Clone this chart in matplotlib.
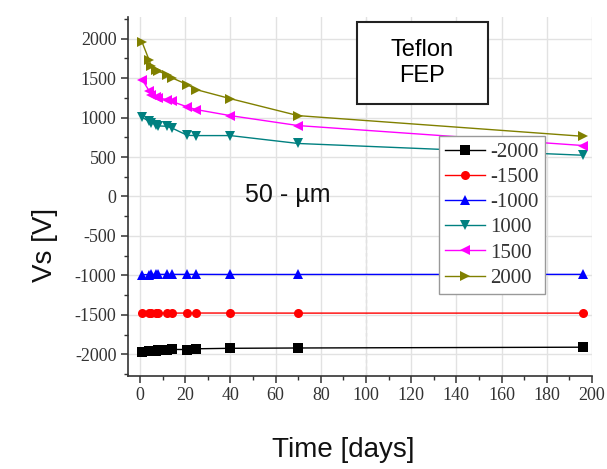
import matplotlib
matplotlib.use("Agg")
import matplotlib.pyplot as plt
from matplotlib.ticker import MultipleLocator
from matplotlib.patches import Rectangle

plt.rcParams["axes.unicode_minus"] = False

# Measurement days
days = [1, 4, 5, 7, 8, 12, 14, 21, 25, 40, 70, 196]

# Surface potential (V) for each initial charging voltage
vs_m2000 = [-1965, -1960, -1955, -1952, -1950, -1940, -1938, -1940, -1930, -1924, -1920, -1910]
vs_m1500 = [-1482, -1482, -1480, -1480, -1479, -1478, -1478, -1477, -1477, -1477, -1478, -1478]
vs_m1000 = [-990, -990, -988, -988, -987, -987, -987, -987, -987, -988, -988, -987]
vs_p1000 = [1004, 953, 933, 911, 895, 890, 870, 775, 772, 772, 672, 523]
vs_p1500 = [1481, 1342, 1291, 1262, 1250, 1228, 1206, 1135, 1101, 1025, 899, 646]
vs_p2000 = [1953, 1734, 1650, 1608, 1590, 1544, 1506, 1418, 1354, 1240, 1025, 763]

labels = ["-2000", "-1500", "-1000", "1000", "1500", "2000"]
series = [vs_m2000, vs_m1500, vs_m1000, vs_p1000, vs_p1500, vs_p2000]
colors = ["#000000", "#ff0000", "#0000ff", "#008080", "#ff00ff", "#808000"]
markers = ["s", "o", "^", "v", "<", ">"]

serif = "Liberation Serif"
sans = "Liberation Sans"

fig = plt.figure(figsize=(6.07, 4.69), dpi=100)
ax = fig.add_axes([127.5 / 607, 1 - 376 / 469, (592 - 127.5) / 607, (376 - 17) / 469])

ax.set_xlim(-5.5, 200)
ax.set_ylim(-2275, 2275)

ax.xaxis.set_major_locator(MultipleLocator(20))
ax.xaxis.set_minor_locator(MultipleLocator(10))
ax.yaxis.set_major_locator(MultipleLocator(500))
ax.yaxis.set_minor_locator(MultipleLocator(250))

ax.grid(True, which="major", color="#e2e2e2", lw=1.0, zorder=0)
ax.axvline(100, color="#666666", lw=0.8, ls=(0, (3, 3)), zorder=1)

for vals, lab, c, m in zip(series, labels, colors, markers):
    ax.plot(days, vals, color=c, lw=1.0, marker=m, markersize=6.5,
            markeredgewidth=0, label=lab, zorder=3)

for side in ("top", "right"):
    ax.spines[side].set_visible(False)
for side in ("left", "bottom"):
    ax.spines[side].set_linewidth(1.2)
    ax.spines[side].set_color("#333333")

ax.tick_params(axis="both", which="major", direction="out", length=5, width=1.1,
               color="#333333", labelsize=13, pad=3)
ax.tick_params(axis="both", which="minor", direction="out", length=3, width=1.0,
               color="#333333")
for t in ax.get_xticklabels() + ax.get_yticklabels():
    t.set_fontfamily(serif)
    t.set_color("#333333")

leg = ax.legend(loc="upper left", bbox_to_anchor=(439 / 607, 1 - 136 / 469),
                bbox_transform=fig.transFigure, borderaxespad=0,
                prop={"family": serif, "size": 15}, frameon=True, fancybox=False,
                edgecolor="#999999", framealpha=1, handlelength=1.9,
                labelspacing=0.27, handletextpad=0.25, borderpad=0.3)
leg.get_frame().set_linewidth(1.0)
for t in leg.get_texts():
    t.set_color("#333333")

# Material annotation box
fig.patches.append(Rectangle((357 / 607, 1 - 104 / 469), 131 / 607, 82 / 469,
                             transform=fig.transFigure, fc="white", ec="#222222",
                             lw=1.5, zorder=5))
fig.text(422 / 607, 1 - 63 / 469, "Teflon\nFEP", family=sans, fontsize=17,
         ha="center", va="center", linespacing=1.25, zorder=6)

fig.text(288 / 607, 1 - 195 / 469, "50 - µm", family=sans, fontsize=18,
         ha="center", va="center", color="#111111")

fig.text(343 / 607, 1 - 450 / 469, "Time [days]", family=sans, fontsize=20,
         ha="center", va="center", color="#111111")
fig.text(45 / 607, 1 - 245 / 469, "Vs [V]", family=sans, fontsize=20,
         ha="center", va="center", rotation=90, color="#111111")

fig.savefig("out.png", dpi=100)
